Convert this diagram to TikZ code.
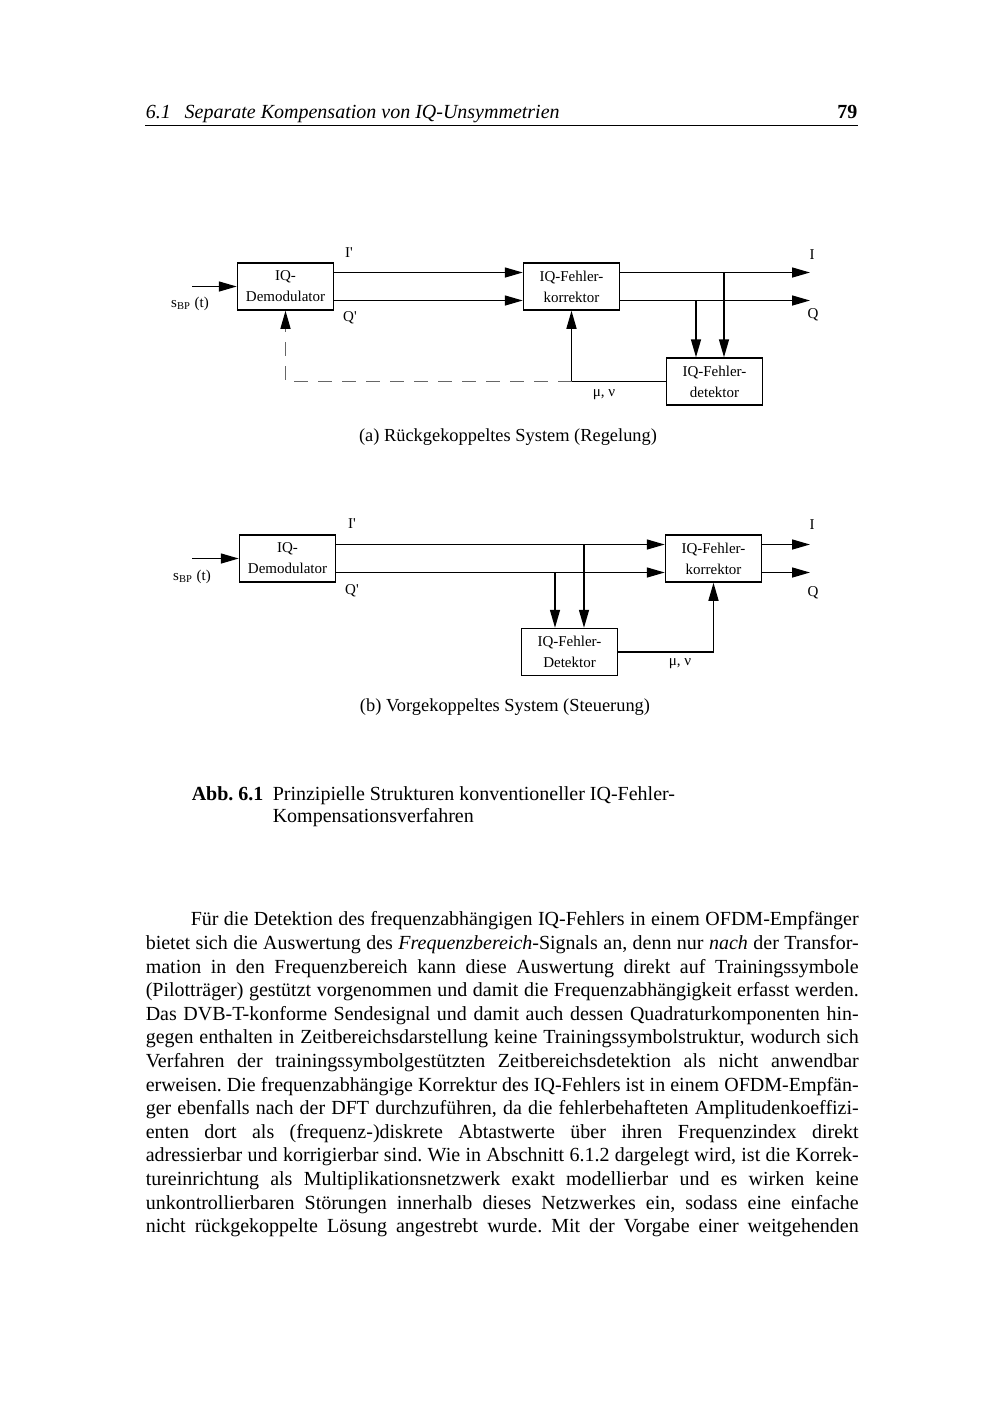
\documentclass[tikz,border=0pt]{standalone}
\usepackage{fontspec}
\setmainfont{Liberation Serif}
\usepackage{tikz}
\usetikzlibrary{
  arrows.meta,  % Triangle-Pfeilspitzen
  positioning,  % relative Platzierung der Knoten
  calc          % Koordinatenrechnung
}
\tikzset{
  block/.style={
    draw,
    line width=0.75pt,
    minimum width=48pt,
    minimum height=23.5pt,
    inner sep=1pt,
    align=center,
    font=\fontsize{7.5}{10.5}\selectfont
  },
  rueck/.style={
    -{Triangle[length=9pt,width=5pt,color=black]},
    dash pattern=on 7pt off 5pt,
    line width=0.6pt,
    draw=black!60
  },
  sig label/.style={
    font=\fontsize{7.5}{9}\selectfont,
    inner sep=0pt
  },
  sub caption/.style={
    font=\fontsize{9.2}{11}\selectfont,
    inner sep=0pt
  }
}
% eine Blocksatzzeile des Fliesstextes
\newcommand{\bzeile}[1]{{\spaceskip=0pt\xspaceskip=0pt\makebox[356.5pt][s]{#1}}}

\begin{document}
\frenchspacing
\begin{tikzpicture}[x=0.5pt, y=-0.5pt, >={Triangle[length=9pt,width=5pt]}, line width=0.75pt]
  \useasboundingbox (0,0) rectangle (1000,1415);
  \fill[white] (0,0) rectangle (1000,1415);

  % 1. Kopfzeile
  \node[anchor=base west, inner sep=0pt, font=\fontsize{10}{12}\selectfont\itshape] (kopf) at (145,118)
    {6.1\hspace{0.7em}Separate Kompensation von IQ-Unsymmetrien};
  \node[anchor=base east, inner sep=0pt, font=\fontsize{10}{12}\selectfont\bfseries] (seite) at (858,118) {79};
  \draw[line width=0.4pt] (145,125) -- (858,125);

  % 2. Bild (a): rueckgekoppeltes System
  \node[block] (demA) at (285.5,286.5) {IQ-\\Demodulator};
  \node[block] (korA) at (571.5,286.5) {IQ-Fehler-\\korrektor};
  \node[block] (detA) at (714.5,381.5) {IQ-Fehler-\\detektor};
  \coordinate (inA) at (192,286.5);
  \coordinate (outIA) at (810,272.5);
  \coordinate (outQA) at (810,300.5);

  \draw[->] (inA) -- (demA.west);
  \draw[->] ([yshift=7pt]demA.east) -- ([yshift=7pt]korA.west);
  \draw[->] ([yshift=-7pt]demA.east) -- ([yshift=-7pt]korA.west);
  \draw[->] ([yshift=7pt]korA.east) -- (outIA);
  \draw[->] ([yshift=-7pt]korA.east) -- (outQA);

  % Abgriffe zum Detektor
  \coordinate (tapQA) at ([xshift=-9.25pt]detA.north);
  \coordinate (tapIA) at ([xshift=4.75pt]detA.north);
  \draw[->] (tapQA |- outQA) -- (tapQA);
  \draw[->] (tapIA |- outIA) -- (tapIA);

  % Rueckfuehrung mu, nu (gestrichelt bis zum Demodulator)
  \coordinate (knA) at (korA.south |- detA.west);
  \draw[->] (detA.west) -- (knA) -- (korA.south);
  \draw[rueck] (knA) -- (demA.south |- knA) -- (demA.south);

  \node[sig label] (sA) at (190,304) {s\textsubscript{BP} (t)};
  \node[sig label] (iStrA) at (349,253) {I\textquotesingle};
  \node[sig label] (qStrA) at (350,318) {Q\textquotesingle};
  \node[sig label] (iA) at (812,255) {I};
  \node[sig label] (qA) at (813,315) {Q};
  \node[sig label] (muA) at (604,395) {μ, ν};
  \node[sub caption] (capA) at (508,437) {(a) Rückgekoppeltes System (Regelung)};

  % 3. Bild (b): vorgekoppeltes System
  \node[block] (demB) at (287.5,558.5) {IQ-\\Demodulator};
  \node[block] (korB) at (713.5,558.5) {IQ-Fehler-\\korrektor};
  \node[block] (detB) at (569.5,652) {IQ-Fehler-\\Detektor};
  \coordinate (inB) at (192,558.5);
  \coordinate (outIB) at (810,544.5);
  \coordinate (outQB) at (810,572.5);
  \coordinate (iB) at ([yshift=7pt]korB.west);
  \coordinate (qB) at ([yshift=-7pt]korB.west);

  \draw[->] (inB) -- (demB.west);
  \draw[->] ([yshift=7pt]demB.east) -- (iB);
  \draw[->] ([yshift=-7pt]demB.east) -- (qB);
  \draw[->] ([yshift=7pt]korB.east) -- (outIB);
  \draw[->] ([yshift=-7pt]korB.east) -- (outQB);

  % Abgriffe zum Detektor
  \coordinate (tapQB) at ([xshift=-7.25pt]detB.north);
  \coordinate (tapIB) at ([xshift=7.25pt]detB.north);
  \draw[->] (tapQB |- qB) -- (tapQB);
  \draw[->] (tapIB |- iB) -- (tapIB);

  % Steuergroessen mu, nu zum Korrektor
  \coordinate (knB) at (korB.south |- detB.east);
  \draw[->] (detB.east) -- (knB) -- (korB.south);

  \node[sig label] (sB) at (192,577) {s\textsubscript{BP} (t)};
  \node[sig label] (iStrB) at (352,524) {I\textquotesingle};
  \node[sig label] (qStrB) at (352,591) {Q\textquotesingle};
  \node[sig label] (iBl) at (812,525) {I};
  \node[sig label] (qBl) at (813,593) {Q};
  \node[sig label] (muB) at (680,664) {μ, ν};
  \node[sub caption] (capB) at (505,707) {(b) Vorgekoppeltes System (Steuerung)};

  % 4. Bildunterschrift
  \node[anchor=base west, inner sep=0pt, font=\fontsize{10}{11}\selectfont\bfseries] (abb) at (191,800) {Abb. 6.1};
  \node[anchor=north west, inner sep=0pt, align=left, font=\fontsize{10}{11}\selectfont] (abbtext) at (272,786)
    {Prinzipielle Strukturen konventioneller IQ-Fehler-\\Kompensationsverfahren};

  % 5. Fliesstext
  \node[anchor=north west, inner sep=0pt, text width=356.5pt, align=left, font=\fontsize{10}{11.8}\selectfont] (text) at (145,911)
    {\bzeile{\hspace*{22.5pt}Für die Detektion des frequenzabhängigen IQ-Fehlers in einem OFDM-Empfänger}\\
     \bzeile{bietet sich die Auswertung des \textit{Frequenzbereich}-Signals an, denn nur \textit{nach} der Transfor-}\\
     \bzeile{mation in den Frequenzbereich kann diese Auswertung direkt auf Trainingssymbole}\\
     \bzeile{(Pilotträger) gestützt vorgenommen und damit die Frequenzabhängigkeit erfasst werden.}\\
     \bzeile{Das DVB-T-konforme Sendesignal und damit auch dessen Quadraturkomponenten hin-}\\
     \bzeile{gegen enthalten in Zeitbereichsdarstellung keine Trainingssymbolstruktur, wodurch sich}\\
     \bzeile{Verfahren der trainingssymbolgestützten Zeitbereichsdetektion als nicht anwendbar}\\
     \bzeile{erweisen. Die frequenzabhängige Korrektur des IQ-Fehlers ist in einem OFDM-Empfän-}\\
     \bzeile{ger ebenfalls nach der DFT durchzuführen, da die fehlerbehafteten Amplitudenkoeffizi-}\\
     \bzeile{enten dort als (frequenz-)diskrete Abtastwerte über ihren Frequenzindex direkt}\\
     \bzeile{adressierbar und korrigierbar sind. Wie in Abschnitt 6.1.2 dargelegt wird, ist die Korrek-}\\
     \bzeile{tureinrichtung als Multiplikationsnetzwerk exakt modellierbar und es wirken keine}\\
     \bzeile{unkontrollierbaren Störungen innerhalb dieses Netzwerkes ein, sodass eine einfache}\\
     \bzeile{nicht rückgekoppelte Lösung angestrebt wurde. Mit der Vorgabe einer weitgehenden}};
\end{tikzpicture}
\end{document}
